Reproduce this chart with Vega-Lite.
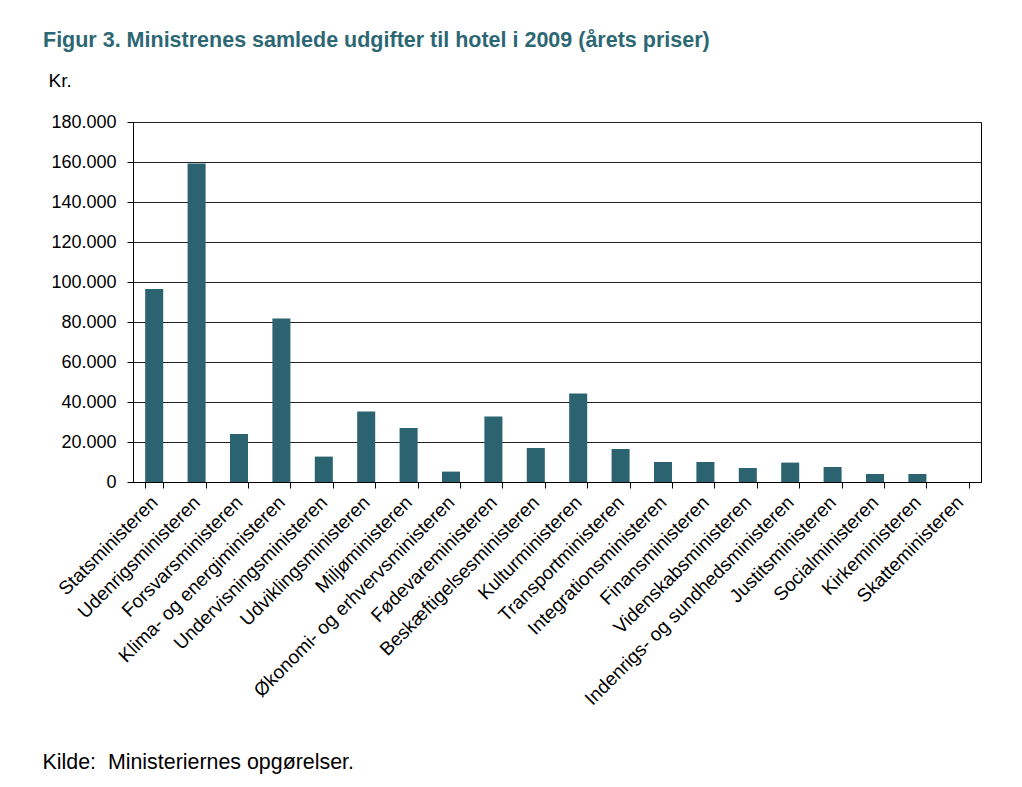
{
  "$schema": "https://vega.github.io/schema/vega-lite/v6.json",
  "autosize": "none",
  "width": 848,
  "height": 360,
  "padding": {"left": 133, "top": 122, "right": 41, "bottom": 305},
  "background": "white",
  "title": {
    "text": "Figur 3. Ministrenes samlede udgifter til hotel i 2009 (årets priser)",
    "anchor": "start",
    "frame": "group",
    "dx": -90,
    "offset": 20,
    "font": "Liberation Sans",
    "fontSize": 21.5,
    "fontWeight": "bold",
    "color": "#2C6774"
  },
  "data": {
    "values": [
      {"ministerium": "Statsministeren", "udgift": 96500},
      {"ministerium": "Udenrigsministeren", "udgift": 159300},
      {"ministerium": "Forsvarsministeren", "udgift": 24000},
      {"ministerium": "Klima- og energiministeren", "udgift": 81800},
      {"ministerium": "Undervisningsministeren", "udgift": 12700},
      {"ministerium": "Udviklingsministeren", "udgift": 35200},
      {"ministerium": "Miljøministeren", "udgift": 27000},
      {"ministerium": "Økonomi- og erhvervsministeren", "udgift": 5200},
      {"ministerium": "Fødevareministeren", "udgift": 32700},
      {"ministerium": "Beskæftigelsesministeren", "udgift": 17000},
      {"ministerium": "Kulturministeren", "udgift": 44300},
      {"ministerium": "Transportministeren", "udgift": 16500},
      {"ministerium": "Integrationsministeren", "udgift": 10000},
      {"ministerium": "Finansministeren", "udgift": 10000},
      {"ministerium": "Videnskabsministeren", "udgift": 7000},
      {"ministerium": "Indenrigs- og sundhedsministeren", "udgift": 9700},
      {"ministerium": "Justitsministeren", "udgift": 7500},
      {"ministerium": "Socialministeren", "udgift": 4000},
      {"ministerium": "Kirkeministeren", "udgift": 4000},
      {"ministerium": "Skatteministeren", "udgift": 0}
    ]
  },
  "mark": {"type": "bar", "color": "#2B6370"},
  "encoding": {
    "x": {
      "field": "ministerium",
      "type": "nominal",
      "sort": null,
      "scale": {"paddingInner": 0.575, "paddingOuter": 0.2875},
      "axis": {
        "title": "Kilde:\u00a0 Ministeriernes opgørelser.",
        "titleX": -91,
        "titleY": 286,
        "titleAlign": "left",
        "titleAnchor": "start",
        "titleBaseline": "alphabetic",
        "titleFont": "Liberation Sans",
        "titleFontSize": 21.4,
        "titleFontWeight": "normal",
        "titleColor": "#000",
        "labelAngle": -45,
        "labelAlign": "right",
        "labelBaseline": "middle",
        "labelPadding": 11,
        "labelFont": "Liberation Sans",
        "labelFontSize": 19,
        "labelColor": "#000",
        "labelLimit": 500,
        "tickBand": "extent",
        "tickSize": 6,
        "tickColor": "#000",
        "domainColor": "#000",
        "grid": false
      }
    },
    "y": {
      "field": "udgift",
      "type": "quantitative",
      "scale": {"domain": [0, 180000], "nice": false},
      "axis": {
        "title": "Kr.",
        "titleAngle": 0,
        "titleX": -85,
        "titleY": -36,
        "titleAlign": "left",
        "titleBaseline": "alphabetic",
        "titleFont": "Liberation Sans",
        "titleFontSize": 19,
        "titleFontWeight": "normal",
        "titleColor": "#000",
        "values": [0, 20000, 40000, 60000, 80000, 100000, 120000, 140000, 160000, 180000],
        "format": ",.0f",
        "labelFont": "Liberation Sans",
        "labelFontSize": 18,
        "labelColor": "#000",
        "labelPadding": 11,
        "tickSize": 6,
        "tickColor": "#000",
        "domainColor": "#000",
        "grid": true,
        "gridColor": "#222",
        "gridOpacity": 1
      }
    }
  },
  "config": {
    "locale": {
      "number": {"decimal": ",", "thousands": ".", "grouping": [3], "currency": ["", " kr."]}
    },
    "view": {"stroke": "#000", "strokeWidth": 1},
    "axis": {"domainWidth": 1, "tickWidth": 1}
  }
}
